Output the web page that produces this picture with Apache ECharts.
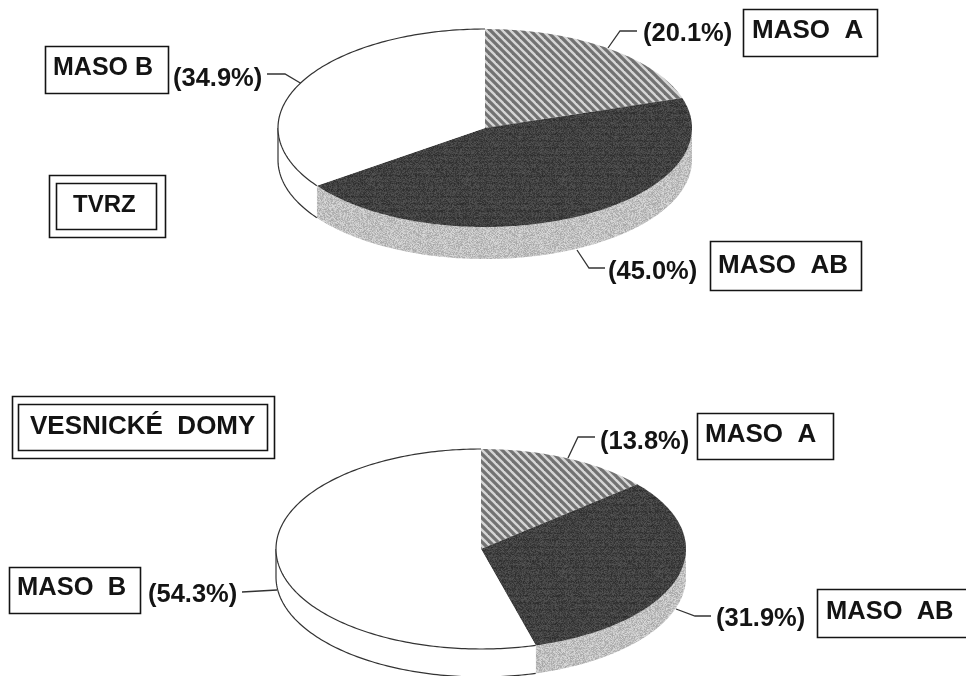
<!DOCTYPE html>
<html>
<head>
<meta charset="utf-8">
<style>html,body{margin:0;padding:0;background:#fff}#chart{width:966px;height:676px}</style>
<script src="https://cdn.jsdelivr.net/npm/echarts@6/dist/echarts.min.js"></script>
</head>
<body>
<div id="chart"></div>
<script>
// share of each meat type, clockwise from 12 o'clock
const categories = ['MASO  A', 'MASO  AB', 'MASO  B'];
const tvrzValues = [20.1, 45.0, 34.9];
const vesniceValues = [13.8, 31.9, 54.3];
const tvrzTitle = 'TVRZ';
const vesniceTitle = 'VESNICKÉ  DOMY';

const INK = '#141414';

// small repeatable textures imitating the scanned print
function hash(x, y) {
	let s = Math.sin(x * 12.9898 + y * 78.233) * 43758.5453;
	return s - Math.floor(s);
}
function tile(w, h, paint) {
	let c = document.createElement('canvas');
	c.width = w;
	c.height = h;
	paint(c.getContext('2d'), w, h);
	return {image: c, repeat: 'repeat'};
}
function grain(base, spread, band) {
	return function (ctx, w, h) {
		for (let y = 0; y < h; y++) {
			for (let x = 0; x < w; x++) {
				let g = base + (hash(x, y) - 0.5) * spread + (y % 7 < 2 ? band : 0);
				g = Math.max(0, Math.min(255, Math.round(g)));
				ctx.fillStyle = 'rgb(' + g + ',' + g + ',' + g + ')';
				ctx.fillRect(x, y, 1, 1);
			}
		}
	};
}
const hatchFill = tile(8, 8, function (ctx, w, h) {
	ctx.fillStyle = '#727272';
	ctx.fillRect(0, 0, w, h);
	ctx.strokeStyle = '#d6d6d6';
	ctx.lineWidth = 2.4;
	for (let o = -8; o <= 8; o += 8) {
		ctx.beginPath();
		ctx.moveTo(o - 1, -1);
		ctx.lineTo(o + 9, 9);
		ctx.stroke();
	}
});
const darkFill = tile(96, 98, grain(66, 36, -6));
const sideFill = tile(96, 98, grain(192, 52, 0));

function arc(p, from, to) {
	let pts = [];
	let n = Math.max(1, Math.ceil(Math.abs(to - from)));
	for (let i = 0; i <= n; i++) {
		let t = (from + (to - from) * i / n) * Math.PI / 180;
		pts.push([p.cx + p.rx * Math.sin(t), p.cy - p.ry * Math.cos(t)]);
	}
	return pts;
}
function lowered(pts, d) {
	return pts.map(function (q) { return [q[0], q[1] + d]; }).reverse();
}

// elliptical pie with a side wall: the library's pie series is circular only
function pieSeries(values, p) {
	let total = values.reduce(function (a, b) { return a + b; }, 0);
	let tops = [hatchFill, darkFill, '#ffffff'];
	let sides = [hatchFill, sideFill, '#ffffff'];
	return {
		type: 'custom',
		coordinateSystem: 'none',
		silent: true,
		animation: false,
		data: values.map(function (v) { return [v]; }),
		renderItem: function (params, api) {
			let before = 0;
			for (let i = 0; i < params.dataIndex; i++) before += values[i];
			let a0 = before / total * 360;
			let a1 = (before + api.value(0)) / total * 360;
			let children = [];
			let s0 = Math.max(a0, 90), s1 = Math.min(a1, 270);
			let white = params.dataIndex === 2;
			if (s1 > s0) {
				let top = arc(p, s0, s1);
				let bottom = lowered(top, p.depth);
				children.push({type: 'polygon', shape: {points: top.concat(bottom)}, style: {fill: sides[params.dataIndex]}});
				if (white) {
					children.push({type: 'polyline', shape: {points: bottom}, style: {fill: null, stroke: '#333333', lineWidth: 1.2}});
					children.push({type: 'polyline', shape: {points: [top[top.length - 1], bottom[0]]}, style: {fill: null, stroke: '#333333', lineWidth: 1.2}});
				}
			}
			let rim = arc(p, a0, a1);
			children.push({type: 'polygon', shape: {points: [[p.cx, p.cy]].concat(rim)}, style: {fill: tops[params.dataIndex]}});
			if (white) {
				children.push({type: 'polyline', shape: {points: rim}, style: {fill: null, stroke: '#333333', lineWidth: 1.2}});
			}
			return {type: 'group', children: children};
		}
	};
}

function pct(v) {
	return '(' + v.toFixed(1) + '%)';
}
function box(x, y, w, h) {
	return {type: 'rect', shape: {x: x, y: y, width: w, height: h}, style: {fill: null, stroke: INK, lineWidth: 1.6}};
}
function label(text, x, y, size) {
	return {type: 'text', x: x, y: y, style: {
		text: text,
		font: 'bold ' + (size || 26) + 'px "Liberation Sans", Arial, sans-serif',
		fill: INK,
		align: 'left',
		verticalAlign: 'middle'
	}};
}
function leader(points) {
	return {type: 'polyline', shape: {points: points}, style: {fill: null, stroke: '#333333', lineWidth: 1.3}};
}

const annotations = [
	// TVRZ
	box(743.5, 9.5, 134, 47), label(categories[0], 752, 31), label(pct(tvrzValues[0]), 643, 34, 25.5),
	leader([[608, 48], [620, 31], [637, 31]]),
	box(710.5, 241.5, 151, 49), label(categories[1], 718, 266), label(pct(tvrzValues[1]), 608, 272, 25.5),
	leader([[577, 250], [589, 268], [605, 268]]),
	box(45.5, 46.5, 123, 47), label('MASO B', 53, 68, 25), label(pct(tvrzValues[2]), 173, 79, 25.5),
	leader([[267, 74], [285, 74], [302, 84]]),
	box(49.5, 175.5, 116, 62), box(56.5, 183.5, 100, 46), label(tvrzTitle, 73, 205, 24),
	// VESNICKE DOMY
	box(697.5, 413.5, 136, 46), label(categories[0], 705, 435), label(pct(vesniceValues[0]), 600, 442, 25.5),
	leader([[568, 458], [578, 437], [595, 437]]),
	box(817.5, 589.5, 155, 48), label(categories[1], 826, 612, 25.5), label(pct(vesniceValues[1]), 716, 619, 25.5),
	leader([[676, 609], [695, 616], [711, 616]]),
	box(9.5, 567.5, 131, 46), label(categories[2], 17, 588, 25.5), label(pct(vesniceValues[2]), 148, 595, 25.5),
	leader([[242, 592], [277, 590]]),
	box(12.5, 396.5, 262, 62), box(18.5, 404.5, 249, 46), label(vesniceTitle, 30, 427)
];

const myChart = echarts.init(document.getElementById('chart'), null, {renderer: 'canvas'});
myChart.setOption({
	backgroundColor: '#ffffff',
	animation: false,
	series: [
		pieSeries(tvrzValues, {cx: 485, cy: 128, rx: 207, ry: 99, depth: 32}),
		pieSeries(vesniceValues, {cx: 481, cy: 549, rx: 205, ry: 100, depth: 28})
	],
	graphic: {elements: annotations}
});
</script>
</body>
</html>
